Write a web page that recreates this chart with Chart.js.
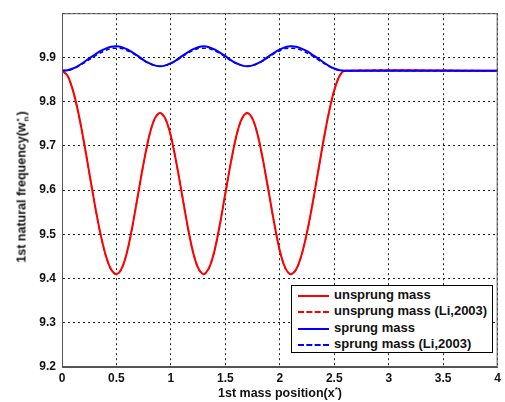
<!DOCTYPE html>
<html>
<head>
<meta charset="utf-8">
<script src="https://cdn.jsdelivr.net/npm/chart.js@4.4.0/dist/chart.umd.min.js"></script>
<style>
  body { margin: 0; background: #fff; }
  #wrap { position: relative; width: 505px; height: 402px; font-family: Arial, "Liberation Sans", sans-serif; font-weight: bold; color: #111; }
  #xtitle { position: absolute; left: 0; width: 560px; top: 386px; text-align: center; font-size: 12.5px; }
  #ytitle { position: absolute; left: 22px; top: 187px; font-size: 12.5px; line-height: 14px; white-space: nowrap; transform: translate(-50%, -50%) rotate(-90deg); }
  sup { font-size: 8px; vertical-align: 5px; line-height: 0; }
  .ss { display: inline-flex; flex-direction: column; font-size: 8px; line-height: 7px; vertical-align: 4px; margin: 0 1px; }
  #legend { position: absolute; left: 291px; top: 285px; width: 200px; height: 66px; border: 1px solid #000; background: #fff; font-size: 13px; }
  .row { position: absolute; left: 0; height: 16px; line-height: 16px; white-space: nowrap; }
  .ln { position: absolute; left: 6px; top: 8px; width: 31px; border-top-width: 2px; }
  .txt { position: absolute; left: 42px; top: 0; }
</style>
</head>
<body>
<div id="wrap">
  <canvas id="c" width="505" height="402"></canvas>
  <div id="xtitle">1st mass position(x<sup>*</sup>)</div>
  <div id="ytitle">1st natural frequency(w<span class="ss"><span>*</span><span>n</span></span>)</div>
  <div id="legend"></div>
</div>
<script>
// x positions (1st mass position), step 0.05 up to 2.6 then the flat tail to 4
const xPos = [0, 0.05, 0.1, 0.15, 0.2, 0.25, 0.3, 0.35, 0.4, 0.45, 0.5,
  0.55, 0.6, 0.65, 0.7, 0.75, 0.8, 0.85, 0.9,
  0.95, 1.0, 1.05, 1.1, 1.15, 1.2, 1.25, 1.3,
  1.35, 1.4, 1.45, 1.5, 1.55, 1.6, 1.65, 1.7,
  1.75, 1.8, 1.85, 1.9, 1.95, 2.0, 2.05, 2.1,
  2.15, 2.2, 2.25, 2.3, 2.35, 2.4, 2.45, 2.5, 2.55, 2.6, 4];

const unsprung = [9.870, 9.859, 9.826, 9.775, 9.711, 9.640, 9.569, 9.505, 9.454, 9.421, 9.410,
  9.424, 9.463, 9.523, 9.593, 9.662, 9.722, 9.761, 9.775,
  9.761, 9.722, 9.662, 9.593, 9.523, 9.463, 9.424, 9.410,
  9.424, 9.463, 9.523, 9.593, 9.662, 9.722, 9.761, 9.775,
  9.761, 9.722, 9.662, 9.593, 9.523, 9.463, 9.424, 9.410,
  9.421, 9.454, 9.505, 9.569, 9.640, 9.711, 9.775, 9.826, 9.859, 9.870, 9.870];

const unsprungLi = [9.870, 9.858, 9.825, 9.774, 9.710, 9.639, 9.568, 9.504, 9.453, 9.420, 9.409,
  9.423, 9.462, 9.522, 9.592, 9.661, 9.721, 9.760, 9.774,
  9.760, 9.721, 9.661, 9.592, 9.522, 9.462, 9.423, 9.409,
  9.423, 9.462, 9.522, 9.592, 9.661, 9.721, 9.760, 9.774,
  9.760, 9.721, 9.661, 9.592, 9.522, 9.462, 9.423, 9.409,
  9.420, 9.453, 9.504, 9.568, 9.639, 9.710, 9.774, 9.825, 9.858, 9.870, 9.870];

const sprung = [9.870, 9.871, 9.875, 9.881, 9.889, 9.898, 9.906, 9.914, 9.920, 9.924, 9.925,
  9.923, 9.918, 9.911, 9.903, 9.894, 9.887, 9.882, 9.880,
  9.882, 9.887, 9.894, 9.903, 9.911, 9.918, 9.923, 9.925,
  9.923, 9.918, 9.911, 9.903, 9.894, 9.887, 9.882, 9.880,
  9.882, 9.887, 9.894, 9.903, 9.911, 9.918, 9.923, 9.925,
  9.924, 9.920, 9.914, 9.906, 9.898, 9.889, 9.881, 9.875, 9.871, 9.870, 9.870];

const sprungLi = [9.870, 9.871, 9.874, 9.880, 9.887, 9.895, 9.903, 9.910, 9.916, 9.920, 9.921,
  9.920, 9.915, 9.909, 9.901, 9.893, 9.886, 9.882, 9.880,
  9.882, 9.886, 9.893, 9.901, 9.909, 9.915, 9.920, 9.921,
  9.920, 9.915, 9.909, 9.901, 9.893, 9.886, 9.882, 9.880,
  9.882, 9.886, 9.893, 9.901, 9.909, 9.915, 9.920, 9.921,
  9.920, 9.916, 9.910, 9.903, 9.895, 9.887, 9.880, 9.874, 9.871, 9.870, 9.870];

const xTicks = [0, 0.5, 1, 1.5, 2, 2.5, 3, 3.5, 4];
const yTicks = [9.2, 9.3, 9.4, 9.5, 9.6, 9.7, 9.8, 9.9, 10];

const seriesNames = ["unsprung mass", "unsprung mass (Li,2003)", "sprung mass", "sprung mass (Li,2003)"];
const seriesColors = ["#ff0000", "#ff0000", "#0000ff", "#0000ff"];
const seriesDashed = [false, true, false, true];
const seriesValues = [unsprung, unsprungLi, sprung, sprungLi];
// blue curves sit on top of the red ones (lower order = drawn last)
const seriesOrder = [4, 3, 2, 1];

const toPoints = vals => xPos.map((x, i) => ({ x: x, y: vals[i] }));

// draw the full box around the plot area like matlab does
const frame = {
  id: "frame",
  afterDraw(chart) {
    const a = chart.chartArea;
    const ctx = chart.ctx;
    ctx.save();
    ctx.strokeStyle = "#555";
    ctx.lineWidth = 1;
    ctx.strokeRect(a.left + 0.5, a.top + 0.5, a.right - a.left - 1, a.bottom - a.top - 1);
    ctx.restore();
  }
};

const gridOpts = {
  color: "#222",
  lineWidth: 1,
  drawTicks: false
};

new Chart(document.getElementById("c").getContext("2d"), {
  type: "line",
  data: {
    datasets: seriesNames.map((name, i) => ({
      label: name,
      data: toPoints(seriesValues[i]),
      borderColor: seriesColors[i],
      borderWidth: seriesDashed[i] ? 1.5 : 2,
      borderDash: seriesDashed[i] ? [4, 3] : [],
      order: seriesOrder[i],
      pointRadius: 0,
      tension: 0.3,
      fill: false
    }))
  },
  options: {
    responsive: false,
    animation: false,
    layout: { padding: { top: 7, right: 7, left: 0, bottom: 0 } },
    plugins: { legend: { display: false }, tooltip: { enabled: false } },
    scales: {
      x: {
        type: "linear",
        min: 0,
        max: 4,
        afterBuildTicks: s => { s.ticks = xTicks.map(v => ({ value: v })); },
        afterFit: s => { s.height = 35; },
        grid: gridOpts,
        border: { display: true, color: "#555", dash: [2, 3] },
        ticks: {
          color: "#111",
          padding: 4,
          maxRotation: 0,
          font: { family: "Arial, 'Liberation Sans'", size: 12, weight: "bold" },
          callback: v => String(v)
        }
      },
      y: {
        type: "linear",
        min: 9.2,
        max: 10,
        afterBuildTicks: s => { s.ticks = yTicks.map(v => ({ value: v })); },
        afterFit: s => { s.width = 62; },
        grid: gridOpts,
        border: { display: true, color: "#555", dash: [2, 3] },
        ticks: {
          color: "#111",
          padding: 6,
          font: { family: "Arial, 'Liberation Sans'", size: 12, weight: "bold" },
          callback: v => (v >= 10 ? "" : v.toFixed(1))
        }
      }
    }
  },
  plugins: [frame]
});

// legend box inside the plot, bottom right
const legend = document.getElementById("legend");
seriesNames.forEach((name, i) => {
  const row = document.createElement("div");
  row.className = "row";
  row.style.top = (1 + i * 16.3) + "px";
  row.style.width = "100%";
  const ln = document.createElement("span");
  ln.className = "ln";
  ln.style.borderTopStyle = seriesDashed[i] ? "dashed" : "solid";
  ln.style.borderTopColor = seriesColors[i];
  const txt = document.createElement("span");
  txt.className = "txt";
  txt.textContent = name;
  row.appendChild(ln);
  row.appendChild(txt);
  legend.appendChild(row);
});
</script>
</body>
</html>
